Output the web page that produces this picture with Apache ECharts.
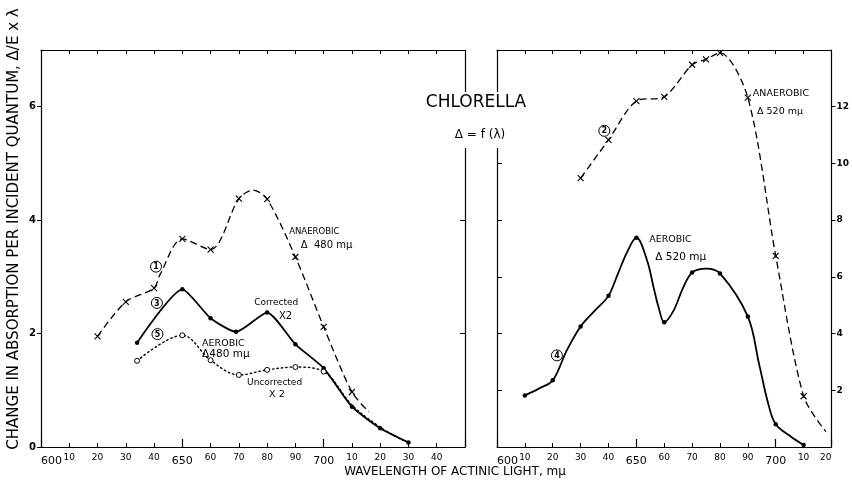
<!DOCTYPE html>
<html><head><meta charset="utf-8">
<script src="https://cdn.jsdelivr.net/npm/echarts@6/dist/echarts.min.js"></script>
<style>html,body{margin:0;padding:0;background:#fff}#c{width:852px;height:498px}</style>
</head><body><div id="c"></div>
<script>
const FONT = 'DejaVu Sans';
// ---- Left panel: Δ 480 mμ (left axis 0–7) ----
const anaerobic480Points = [[620,1.95],[630,2.56],[640,2.80],[650,3.67],[660,3.48],[670,4.38],[680,4.37],[690,3.35],[700,2.12],[710,0.97]];
const anaerobic480Curve = [[642,3.03],[675,4.53],[716,0.62]];
const correctedPoints = [[634,1.84],[650,2.78],[660,2.27],[669,2.03],[680,2.37],[690,1.81],[700,1.39],[710,0.71],[720,0.33],[730,0.08]];
const correctedCurve = [];
const uncorrectedPoints = [[634,1.52],[650,1.97],[660,1.53],[670,1.27],[680,1.36],[690,1.41],[700,1.33]];
const uncorrectedCurve = [[710,0.74],[720,0.35],[728,0.12]];
// ---- Right panel: Δ 520 mμ (right axis 0–14) ----
const anaerobic520Points = [[630,9.48],[640,10.83],[650,12.2],[660,12.35],[670,13.48],[675,13.67],[680,13.9],[690,12.32],[700,6.74],[710,1.79]];
const anaerobic520Curve = [[718,0.54]];
const aerobic520Points = [[610,1.82],[620,2.35],[630,4.25],[640,5.33],[650,7.38],[660,4.40],[670,6.15],[680,6.12],[690,4.6],[700,0.8],[710,0.07]];
const aerobic520Curve = [[615,2.06],[625,3.4],[635,4.8],[643.3,6.09],[646.8,6.9],[653.9,6.56],[656.2,5.62],[658,4.92],[663.3,4.8],[666.8,5.62],[675,6.29],[694,2.94],[697.3,1.53],[705.5,0.36]];
// ---- axes ----
const leftX = {min:600, max:750};
const rightX = {min:600, max:720};
const leftYTicks = {min:0, max:7, interval:2};
const rightYTicks = {min:0, max:14, interval:2};
// ---- annotations [panel, λ, value, text] ----
const circledLabels = [[0,640.7,3.18,'1'],[0,641,2.54,'3'],[0,641.2,1.99,'5'],[1,638.5,11.15,'2'],[1,621.5,3.23,'4']];
const textLabels = [
  [0,687.8,3.79,'ANAEROBIC',8.5],[0,691.9,3.55,'Δ  480 mμ',10],
  [0,675.4,2.55,'Corrected',9],[0,684.2,2.30,'X2',10],
  [0,657,1.83,'AEROBIC',9.5],[0,657,1.63,'Δ480 mμ',10.5],
  [0,672.9,1.13,'Uncorrected',9],[0,680.7,0.92,'X 2',9.5],
  [1,691.8,12.47,'ANAEROBIC',9.5],[1,693.3,11.82,'Δ 520 mμ',9.5],
  [1,654.6,7.32,'AEROBIC',9.5],[1,656.8,6.68,'Δ 520 mμ',10.5]
];

function merge(points, curve){
  return points.map(p=>({value:p})).concat(curve.map(p=>({value:p, symbol:'none'}))).sort((a,b)=>a.value[0]-b.value[0]);
}
const X_SYM = 'path://M0,0L10,10M10,0L0,10';
function xLabel(v){
  if (v===600||v===650||v===700) return '{b|'+v+'}';
  if (v===750) return '';
  return String(v%100);
}
const labelStyle = {color:'#000', fontFamily:FONT, fontSize:9, margin:6, formatter:xLabel,
  rich:{b:{fontSize:11, fontFamily:FONT, color:'#000', padding:[3,0,0,0]}}, alignMinLabel:'left', alignMaxLabel:'right'};
const line = {lineStyle:{color:'#000', width:1.2}};
function xAxes(grid, ext){
  return [
    {type:'value', gridIndex:grid, position:'bottom', min:ext.min, max:ext.max, interval:10,
     axisLine:line, axisTick:{inside:true, length:4, lineStyle:{color:'#000'}}, splitLine:{show:false}, axisLabel:labelStyle},
    {type:'value', gridIndex:grid, position:'bottom', min:ext.min, max:ext.max, interval:50,
     axisLine:{show:false}, axisTick:{inside:true, length:8, lineStyle:{color:'#000', width:1.2}}, splitLine:{show:false}, axisLabel:{show:false}},
    {type:'value', gridIndex:grid, position:'top', min:ext.min, max:ext.max, interval:10,
     axisLine:line, axisTick:{inside:true, length:4, lineStyle:{color:'#000'}}, splitLine:{show:false}, axisLabel:{show:false}}
  ];
}
const yLabel = {color:'#000', fontFamily:FONT, fontSize:10, fontWeight:'bold', margin:5};
const option = {
  backgroundColor:'#fff',
  animation:false,
  grid:[{left:41, right:387, top:50, bottom:51},{left:497, right:14, top:50, bottom:51}],
  xAxis:[...xAxes(0,leftX), ...xAxes(1,rightX)],
  yAxis:[
    {type:'value', gridIndex:0, position:'left', ...leftYTicks, axisLine:line, axisTick:{length:4, lineStyle:{color:'#000'}}, splitLine:{show:false}, axisLabel:{...yLabel, showMaxLabel:false}},
    {type:'value', gridIndex:0, position:'right', ...leftYTicks, axisLine:line, axisTick:{inside:true, length:5, lineStyle:{color:'#000'}}, splitLine:{show:false}, axisLabel:{show:false}},
    {type:'value', gridIndex:1, position:'left', ...rightYTicks, axisLine:line, axisTick:{inside:true, length:5, lineStyle:{color:'#000'}}, splitLine:{show:false}, axisLabel:{show:false}},
    {type:'value', gridIndex:1, position:'right', ...rightYTicks, axisLine:line, axisTick:{length:4, lineStyle:{color:'#000'}}, splitLine:{show:false}, axisLabel:{...yLabel, fontSize:9, showMinLabel:false, showMaxLabel:false}}
  ],
  series:[
    {name:'Anaerobic Δ480', type:'line', xAxisIndex:0, yAxisIndex:0, smooth:0.3, data:merge(anaerobic480Points, anaerobic480Curve),
     symbol:X_SYM, symbolSize:6, itemStyle:{color:'none', borderColor:'#000', borderWidth:1.1},
     lineStyle:{color:'#000', width:1.3, type:[7,4]}},
    {name:'Aerobic Δ480 corrected ×2', type:'line', xAxisIndex:0, yAxisIndex:0, smooth:0.2, data:merge(correctedPoints, correctedCurve),
     symbol:'circle', symbolSize:4.5, itemStyle:{color:'#000'}, lineStyle:{color:'#000', width:1.8}},
    {name:'Aerobic Δ480 uncorrected ×2', type:'line', xAxisIndex:0, yAxisIndex:0, smooth:0.35, data:merge(uncorrectedPoints, uncorrectedCurve),
     symbol:'circle', symbolSize:5, itemStyle:{color:'#fff', borderColor:'#000', borderWidth:1},
     lineStyle:{color:'#000', width:1.4, type:[1.5,3], cap:'round'}},
    {name:'Anaerobic Δ520', type:'line', xAxisIndex:3, yAxisIndex:3, smooth:0.3, data:merge(anaerobic520Points, anaerobic520Curve),
     symbol:X_SYM, symbolSize:6, itemStyle:{color:'none', borderColor:'#000', borderWidth:1.1},
     lineStyle:{color:'#000', width:1.3, type:[7,4]}},
    {name:'Aerobic Δ520', type:'line', xAxisIndex:3, yAxisIndex:3, smooth:0.35, data:merge(aerobic520Points, aerobic520Curve),
     symbol:'circle', symbolSize:4.5, itemStyle:{color:'#000'}, lineStyle:{color:'#000', width:1.8}}
  ]
};
const chart = echarts.init(document.getElementById('c'), null, {renderer:'canvas'});
chart.setOption(option);

const g = [];
g.push({type:'rect', shape:{x:455, y:92, width:50, height:56}, style:{fill:'#fff'}, z:50});
g.push({type:'text', x:476, y:103, z:60, style:{text:'CHLORELLA', fill:'#000', fontFamily:FONT, fontSize:17, align:'center', verticalAlign:'middle'}});
g.push({type:'text', x:480, y:135, z:60, style:{text:'Δ = f (λ)', fill:'#000', fontFamily:FONT, fontSize:12, align:'center', verticalAlign:'middle'}});
g.push({type:'text', x:14, y:229, rotation:Math.PI/2, z:60, style:{text:'CHANGE IN ABSORPTION PER INCIDENT QUANTUM, Δ/E x λ', fill:'#000', fontFamily:FONT, fontSize:15, align:'center', verticalAlign:'middle'}});
g.push({type:'text', x:455, y:472, z:60, style:{text:'WAVELENGTH OF ACTINIC LIGHT, mμ', fill:'#000', fontFamily:FONT, fontSize:12, align:'center', verticalAlign:'middle'}});
function px(panel, l, v){
  return panel===0 ? chart.convertToPixel({xAxisIndex:0, yAxisIndex:0}, [l,v]) : chart.convertToPixel({xAxisIndex:3, yAxisIndex:3}, [l,v]);
}
circledLabels.forEach(([p,l,v,t])=>{
  const [x,y] = px(p,l,v);
  g.push({type:'circle', shape:{cx:x, cy:y, r:5.5}, style:{fill:'#fff', stroke:'#000', lineWidth:1}, z:40});
  g.push({type:'text', x:x, y:y+0.5, z:41, style:{text:t, fill:'#000', fontFamily:FONT, fontSize:8, fontWeight:'bold', align:'center', verticalAlign:'middle'}});
});
textLabels.forEach(([p,l,v,t,fs])=>{
  const [x,y] = px(p,l,v);
  g.push({type:'text', x:x, y:y, z:40, style:{text:t, fill:'#000', fontFamily:FONT, fontSize:fs, align:'left', verticalAlign:'middle'}});
});
chart.setOption({graphic:g});
</script></body></html>
